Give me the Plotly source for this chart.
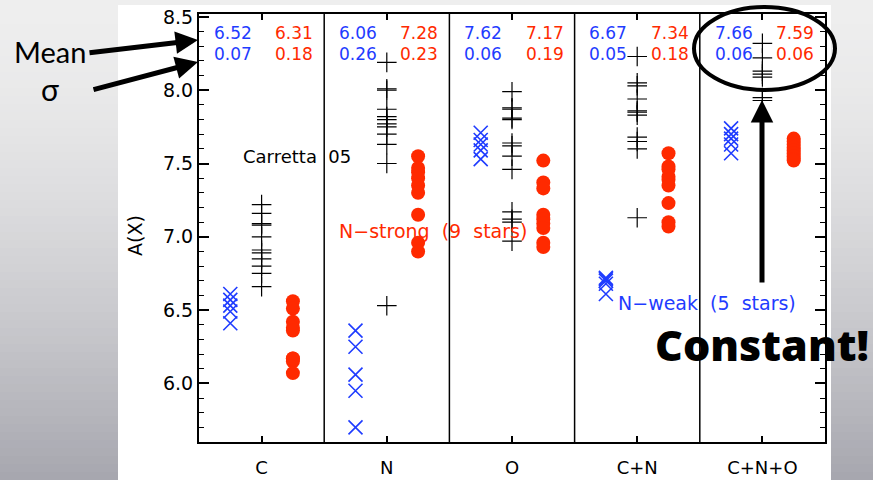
import plotly.graph_objects as go

# Abundance groups (element sums) along the x axis
categories = ["C", "N", "O", "C+N", "C+N+O"]

# N-weak stars (blue crosses)
weak_c = [6.61, 6.57, 6.53, 6.49, 6.41]
weak_n = [6.36, 6.25, 6.06, 5.95, 5.70]
weak_o = [7.71, 7.66, 7.63, 7.59, 7.53]
weak_cn = [6.72, 6.71, 6.70, 6.68, 6.61]
weak_cno = [7.74, 7.70, 7.67, 7.63, 7.57]

# Carretta 05 sample (black plus signs)
carr_c = [7.22, 7.16, 7.09, 7.08, 7.00, 6.91, 6.89, 6.85, 6.80, 6.75, 6.66]
carr_n = [8.19, 8.01, 8.00, 7.87, 7.82, 7.80, 7.77, 7.75, 7.70, 7.63, 7.50, 6.53]
carr_o = [7.99, 7.88, 7.87, 7.81, 7.80, 7.64, 7.62, 7.55, 7.46, 7.17, 7.12, 7.10, 6.97]
carr_cn = [8.23, 8.05, 8.03, 7.94, 7.86, 7.85, 7.83, 7.68, 7.65, 7.60, 7.13]
carr_cno = [8.32, 8.22, 8.13, 8.11, 8.09, 7.95, 7.93]

# N-strong stars (red dots)
strong_c = [6.56, 6.51, 6.42, 6.38, 6.36, 6.17, 6.15, 6.07, 6.17]
strong_n = [7.55, 7.47, 7.44, 7.40, 7.35, 7.30, 7.15, 6.96, 6.90]
strong_o = [7.52, 7.37, 7.33, 7.15, 7.12, 7.09, 7.06, 6.96, 6.93]
strong_cn = [7.57, 7.48, 7.46, 7.41, 7.39, 7.35, 7.23, 7.10, 7.07]
strong_cno = [7.67, 7.65, 7.63, 7.61, 7.59, 7.57, 7.55, 7.53, 7.52]

# Mean and sigma printed at the top of every panel
weak_mean = ["6.52", "6.06", "7.62", "6.67", "7.66"]
weak_sigma = ["0.07", "0.26", "0.06", "0.05", "0.06"]
strong_mean = ["6.31", "7.28", "7.17", "7.34", "7.59"]
strong_sigma = ["0.18", "0.23", "0.19", "0.18", "0.06"]

weak_groups = [weak_c, weak_n, weak_o, weak_cn, weak_cno]
carr_groups = [carr_c, carr_n, carr_o, carr_cn, carr_cno]
strong_groups = [strong_c, strong_n, strong_o, strong_cn, strong_cno]

BLUE = "#1f3cff"
RED = "#ff2a00"
IDL_FONT = "DejaVu Sans"
SLIDE_FONT = "Lato"
BOLD_FONT = "Open Sans"
NB = "\u00a0"

W, H = 873, 480
ML, MR, MT, MB = 199, 48, 14, 38
PW, PH = W - ML - MR, H - MT - MB


def px(x):
    return (x - ML) / PW


def py(y):
    return (H - MB - y) / PH


def flat(groups, offset):
    xs, ys = [], []
    for i, vals in enumerate(groups):
        xs += [i + 1 + offset] * len(vals)
        ys += vals
    return xs, ys


fig = go.Figure()

xw, yw = flat(weak_groups, -0.25)
fig.add_trace(go.Scatter(x=xw, y=yw, mode="markers", name="N-weak",
                         marker=dict(symbol="x-thin", size=14,
                                     line=dict(color=BLUE, width=1.6))))
xc, yc = flat(carr_groups, 0.0)
fig.add_trace(go.Scatter(x=xc, y=yc, mode="markers", name="Carretta 05",
                         marker=dict(symbol="cross-thin", size=14,
                                     line=dict(color="black", width=1.2))))
xs, ys = flat(strong_groups, 0.25)
fig.add_trace(go.Scatter(x=xs, y=ys, mode="markers", name="N-strong",
                         marker=dict(symbol="circle", size=14, color=RED,
                                     line=dict(width=0))))

shapes = []

# slide background: vertical grey gradient
n_bands = 60
top = (238, 238, 238)
bot = (166, 166, 174)
for k in range(n_bands):
    t = (k + 0.5) / n_bands
    t = t ** 1.6
    c = tuple(round(top[j] + (bot[j] - top[j]) * t) for j in range(3))
    y0 = k * H / n_bands
    y1 = (k + 1) * H / n_bands + 1
    shapes.append(dict(type="rect", xref="paper", yref="paper", layer="below",
                       x0=px(0), x1=px(W), y0=py(y1), y1=py(y0),
                       fillcolor="rgb(%d,%d,%d)" % c, line=dict(width=0)))
# white figure card
shapes.append(dict(type="rect", xref="paper", yref="paper", layer="below",
                   x0=px(118), x1=px(831), y0=py(H + 2), y1=py(5),
                   fillcolor="white", line=dict(width=0)))

# panel separators
for i in range(1, len(categories)):
    shapes.append(dict(type="line", xref="x", yref="paper", x0=i + 0.5, x1=i + 0.5,
                       y0=0, y1=1, line=dict(color="black", width=1.5)))

# highlight ellipse around the C+N+O statistics
shapes.append(dict(type="circle", xref="paper", yref="paper",
                   x0=px(694), x1=px(835), y0=py(90), y1=py(7),
                   line=dict(color="black", width=4)))


def label(x, y, text, size, color="black", family=IDL_FONT, xref="paper", yref="paper",
          xanchor="center", **kw):
    return dict(x=x, y=y, xref=xref, yref=yref, text=text, showarrow=False,
                xanchor=xanchor, yanchor="middle",
                font=dict(family=family, size=size, color=color, **kw))


def arrow(x_tip, y_tip, x_tail, y_tail):
    return dict(x=px(x_tip), y=py(y_tip), xref="paper", yref="paper",
                ax=x_tail - x_tip, ay=y_tail - y_tip, text="", showarrow=True,
                arrowhead=2, arrowsize=0.9, arrowwidth=5, arrowcolor="black")


annotations = []
for i in range(len(categories)):
    for txt, yv, dx, col in [(weak_mean[i], 8.39, -0.23, BLUE),
                             (weak_sigma[i], 8.245, -0.23, BLUE),
                             (strong_mean[i], 8.39, 0.26, RED),
                             (strong_sigma[i], 8.245, 0.26, RED)]:
        annotations.append(label(i + 1 + dx, yv, txt, 17, col, xref="x", yref="y"))

annotations += [
    label(1.28, 7.55, "Carretta" + NB + NB + "05", 18, xref="x", yref="y"),
    label(px(337), 7.04, "N\u2212strong" + NB + NB + "(9" + NB + NB + "stars)", 19, RED,
          yref="y", xanchor="left"),
    label(px(616), 6.55, "N\u2212weak" + NB + NB + "(5" + NB + NB + "stars)", 19, BLUE,
          yref="y", xanchor="left"),
    dict(x=px(135), y=py(236), xref="paper", yref="paper", text="A(X)", textangle=-90,
         showarrow=False, xanchor="center", yanchor="middle",
         font=dict(family=IDL_FONT, size=19, color="black")),
    label(px(50), py(52), "Mean", 29, family=SLIDE_FONT),
    label(px(50), py(89), "\u03c3", 30, family=SLIDE_FONT),
    label(px(762), py(344), "Constant!", 43, family=BOLD_FONT, weight=800),
    arrow(198, 40, 88, 53),
    arrow(198, 62, 92, 90),
    arrow(762, 100, 762, 284),
]

fig.update_layout(
    width=W, height=H,
    margin=dict(l=ML, r=MR, t=MT, b=MB, autoexpand=False),
    paper_bgcolor="rgb(200,200,204)",
    plot_bgcolor="white",
    showlegend=False,
    shapes=shapes,
    annotations=annotations,
)
fig.update_xaxes(range=[0.5, 5.5], tickmode="array", tickvals=[1, 2, 3, 4, 5],
                 ticktext=categories, ticks="inside", ticklen=6, tickwidth=1.5,
                 tickcolor="black", showline=True, linewidth=2, linecolor="black",
                 mirror="allticks", showgrid=False, zeroline=False, automargin=False,
                 ticklabelstandoff=8,
                 tickfont=dict(family=IDL_FONT, size=18, color="black"))
fig.update_yaxes(range=[5.6, 8.52], tickmode="array", tickvals=[6.0, 6.5, 7.0, 7.5, 8.0, 8.5],
                 ticktext=["6.0", "6.5", "7.0", "7.5", "8.0", "8.5"],
                 ticks="inside", ticklen=10, tickwidth=1.5, tickcolor="black",
                 minor=dict(dtick=0.1, ticks="inside", ticklen=5, tickwidth=1.2, tickcolor="black"),
                 showline=True, linewidth=2, linecolor="black", mirror="allticks",
                 showgrid=False, zeroline=False, automargin=False,
                 tickfont=dict(family=IDL_FONT, size=19, color="black"))

fig.write_html("out.html")
